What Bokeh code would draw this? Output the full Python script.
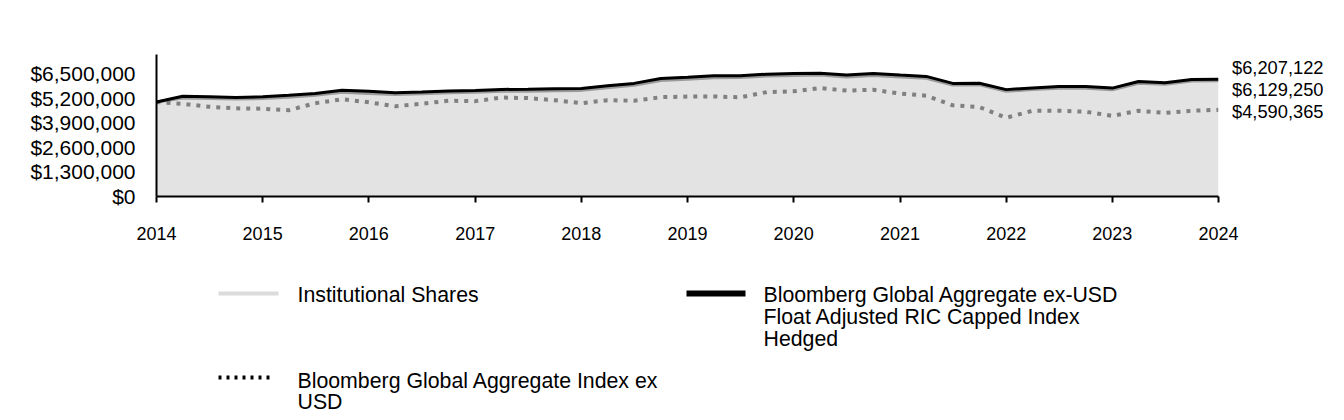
import pandas as pd
from bokeh.plotting import figure
from bokeh.layouts import column
from bokeh.models import (Range1d, FixedTicker, NumeralTickFormatter, DatetimeTickFormatter,
                          Legend, LegendItem)
from bokeh.core.properties import value
from bokeh.embed import file_html
from bokeh.resources import INLINE

FONT = "Liberation Sans"

# Quarterly observation dates
dates = pd.date_range("2014-01-01", "2024-01-01", freq="QS")

# Institutional Shares (growth of hypothetical investment)
institutional = [5000000, 5220000, 5190000, 5160000, 5190000, 5260000, 5360000, 5520000,
                 5460000, 5400000, 5440000, 5490000, 5520000, 5570000, 5580000, 5600000,
                 5620000, 5760000, 5890000, 6140000, 6210000, 6290000, 6300000, 6380000,
                 6410000, 6430000, 6330000, 6410000, 6330000, 6260000, 5900000, 5910000,
                 5570000, 5660000, 5730000, 5730000, 5650000, 6000000, 5940000, 6110000,
                 6129250]

# Bloomberg Global Aggregate ex-USD Float Adjusted RIC Capped Index Hedged
hedged = [5000000, 5310000, 5280000, 5240000, 5280000, 5360000, 5460000, 5630000,
          5570000, 5500000, 5540000, 5590000, 5620000, 5670000, 5680000, 5700000,
          5720000, 5860000, 5990000, 6250000, 6310000, 6390000, 6400000, 6480000,
          6510000, 6530000, 6430000, 6510000, 6430000, 6360000, 5990000, 6000000,
          5660000, 5750000, 5820000, 5820000, 5740000, 6090000, 6030000, 6190000,
          6207122]

# Bloomberg Global Aggregate Index ex USD
unhedged = [5000000, 4910000, 4750000, 4670000, 4650000, 4570000, 4940000, 5150000,
            4990000, 4780000, 4910000, 5070000, 5050000, 5240000, 5210000, 5100000,
            4940000, 5100000, 5070000, 5260000, 5290000, 5300000, 5250000, 5530000,
            5570000, 5740000, 5610000, 5650000, 5450000, 5340000, 4830000, 4730000,
            4170000, 4540000, 4540000, 4490000, 4270000, 4540000, 4430000, 4540000,
            4590365]

y_ticks = [0, 1300000, 2600000, 3900000, 5200000, 6500000]
x_years = [2014, 2015, 2016, 2017, 2018, 2019, 2020, 2021, 2022, 2023, 2024]

names = ["Institutional Shares",
         "Bloomberg Global Aggregate ex-USD\nFloat Adjusted RIC Capped Index\nHedged",
         "Bloomberg Global Aggregate Index ex\nUSD"]

LEFT, FW, RIGHT = 156, 1062, 118

p = figure(frame_width=FW, frame_height=142,
           min_border_left=LEFT, min_border_right=RIGHT, min_border_top=54, min_border_bottom=62,
           x_axis_type="datetime", output_backend="svg", toolbar_location=None,
           x_range=Range1d(dates[0], dates[-1]), y_range=Range1d(0, 7520000),
           background_fill_color="white", border_fill_color="white")
p.outline_line_color = None
p.xgrid.visible = False
p.ygrid.visible = False

p.varea(x=dates, y1=0, y2=institutional, fill_color="#e3e3e3")
p.line(dates, institutional, line_color="#9b9b9b", line_width=3)
p.line(dates, unhedged, line_color="#808080", line_width=4, line_dash="4 6")
p.line(dates, hedged, line_color="black", line_width=3)

tick_ms = [pd.Timestamp(f"{y}-01-01").value // 10**6 for y in x_years]
p.xaxis.ticker = FixedTicker(ticks=tick_ms)
p.xaxis.formatter = DatetimeTickFormatter(years="%Y", months="%Y", days="%Y", hours="%Y")
p.xaxis.axis_line_width = 2
p.xaxis.axis_line_color = "black"
p.xaxis.major_tick_out = 6
p.xaxis.major_tick_in = 0
p.xaxis.major_tick_line_width = 2
p.xaxis.minor_tick_line_color = None
p.xaxis.major_label_text_font = FONT
p.xaxis.major_label_text_font_size = "18px"
p.xaxis.major_label_text_color = "black"
p.xaxis.major_label_standoff = 24

p.yaxis.ticker = FixedTicker(ticks=y_ticks)
p.yaxis.formatter = NumeralTickFormatter(format="$0,0")
p.yaxis.axis_line_width = 2
p.yaxis.axis_line_color = "black"
p.yaxis.major_tick_line_color = None
p.yaxis.major_tick_out = 0
p.yaxis.major_tick_in = 0
p.yaxis.minor_tick_line_color = None
p.yaxis.major_label_text_font = FONT
p.yaxis.major_label_text_font_size = "21px"
p.yaxis.major_label_text_color = "black"
p.yaxis.major_label_standoff = 21

# End-of-period value labels, in the right-hand panel
dummy = p.line(x=[], y=[], line_alpha=0)
end_items = [LegendItem(label=f"${v:,}", renderers=[dummy])
             for v in (hedged[-1], institutional[-1], unhedged[-1])]
end_legend = Legend(items=end_items, location="top_left", orientation="vertical",
                    glyph_width=1, glyph_height=21, label_height=21, label_standoff=10,
                    spacing=0, padding=0, margin=3, border_line_color=None,
                    background_fill_alpha=0, label_text_font=FONT,
                    label_text_font_size="18.3px", label_text_color="black",
                    label_text_baseline="middle")
p.add_layout(end_legend, "right")

# Legend panel (coordinates in page pixels)
lg = figure(frame_width=FW, frame_height=162, min_border_left=LEFT, min_border_right=RIGHT,
            min_border_top=0, min_border_bottom=0,
            x_range=Range1d(LEFT, LEFT + FW), y_range=Range1d(420, 258),
            output_backend="svg", toolbar_location=None,
            x_axis_location=None, y_axis_location=None,
            background_fill_color="white", border_fill_color="white")
lg.outline_line_color = None
lg.xgrid.visible = False
lg.ygrid.visible = False

lg.line([218, 278], [293, 293], line_color="#dcdcdc", line_width=4)
lg.line([686, 745], [293, 293], line_color="black", line_width=6)
lg.line([218, 272], [377, 377], line_color="black", line_width=4, line_dash="3 5")

legend_x = [297, 763, 763, 763, 297, 297]
legend_y = [294, 294, 316, 338, 380, 401]
legend_lines = [names[0]] + names[1].split("\n") + names[2].split("\n")
lg.text(x=legend_x, y=legend_y, text=legend_lines, text_font=value(FONT),
        text_font_size="21.3px", text_baseline="middle", text_align="left", text_color="black")

layout = column(p, lg, spacing=0)
open("out.html", "w").write(file_html(layout, INLINE))
